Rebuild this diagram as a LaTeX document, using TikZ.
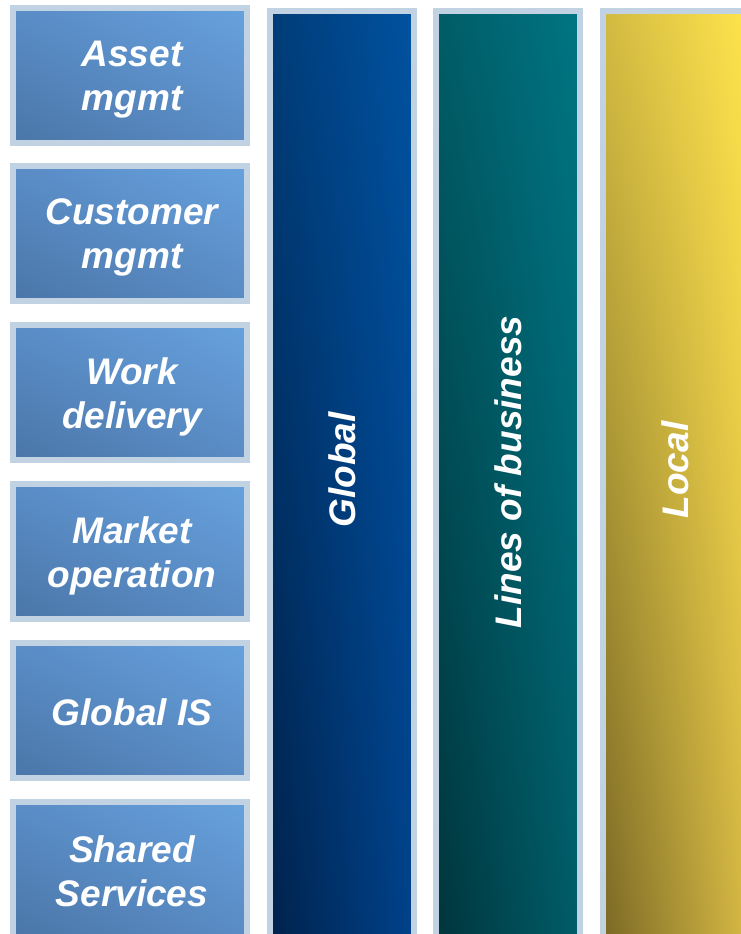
\documentclass[tikz,border=0pt]{standalone}
\usepackage{fontspec}
\setmainfont{Liberation Sans}
\usetikzlibrary{shadings}
\definecolor{frame}{HTML}{C1D2E3}
\definecolor{boxUL}{HTML}{5A8CC6}
\definecolor{boxUR}{HTML}{67A2DE}
\definecolor{boxLL}{HTML}{4A76A8}
\definecolor{boxLR}{HTML}{5A8BC4}
\definecolor{gloUL}{HTML}{003C78}
\definecolor{gloUR}{HTML}{0052A0}
\definecolor{gloLL}{HTML}{00214A}
\definecolor{gloLR}{HTML}{00418A}
\definecolor{lobUL}{HTML}{005C66}
\definecolor{lobUR}{HTML}{007583}
\definecolor{lobLL}{HTML}{00333A}
\definecolor{lobLR}{HTML}{005C68}
\definecolor{locUL}{HTML}{D2BA42}
\definecolor{locUR}{HTML}{FFE44C}
\definecolor{locLL}{HTML}{776624}
\definecolor{locLR}{HTML}{D4B644}
\tikzset{
  label text/.style={text=white, font=\fontsize{37}{44}\selectfont\bfseries\itshape, align=center},
  domainbox/.style={draw=frame, line width=6pt, minimum width=234pt, minimum height=135pt,
    inner sep=0pt, upper left=boxUL, upper right=boxUR, lower left=boxLL, lower right=boxLR},
  column/.style={draw=frame, line width=6pt, minimum width=144pt, minimum height=960pt,
    inner sep=0pt, anchor=north},
}
\begin{document}
\begin{tikzpicture}[x=1pt,y=-1pt]
  \useasboundingbox (0,0) rectangle (740,934);
  % domain boxes on the left
  \node[domainbox] (asset)    at (130,75.5)  {};
  \node[domainbox] (customer) at (130,233.5) {};
  \node[domainbox] (work)     at (130,392.5) {};
  \node[domainbox] (market)   at (130,551.5) {};
  \node[domainbox] (globalis) at (130,710.5) {};
  \node[domainbox] (shared)   at (130,869.5) {};
  \node[label text] (assetT)    at ([shift={(2,4)}]asset)    {Asset\\mgmt};
  \node[label text] (customerT) at ([shift={(2,4)}]customer) {Customer\\mgmt};
  \node[label text] (workT)     at ([shift={(2,4)}]work)     {Work\\delivery};
  \node[label text] (marketT)   at ([shift={(2,4)}]market)   {Market\\operation};
  \node[label text] (globalisT) at ([shift={(2,2)}]globalis) {Global IS};
  \node[label text] (sharedT)   at ([shift={(2,2)}]shared)   {Shared\\Services};
  % vertical scope columns
  \node[column, upper left=gloUL, upper right=gloUR, lower left=gloLL, lower right=gloLR] (global) at (342,8) {};
  \node[column, upper left=lobUL, upper right=lobUR, lower left=lobLL, lower right=lobLR] (lob) at (508,8) {};
  \node[column, upper left=locUL, upper right=locUR, lower left=locLL, lower right=locLR] (local) at (675,8) {};
  \node[label text, rotate=90] (globalT) at (342,470) {Global};
  \node[label text, rotate=90] (lobT)    at (508,472) {Lines of business};
  \node[label text, rotate=90] (localT)  at (675,470) {Local};
\end{tikzpicture}
\end{document}
